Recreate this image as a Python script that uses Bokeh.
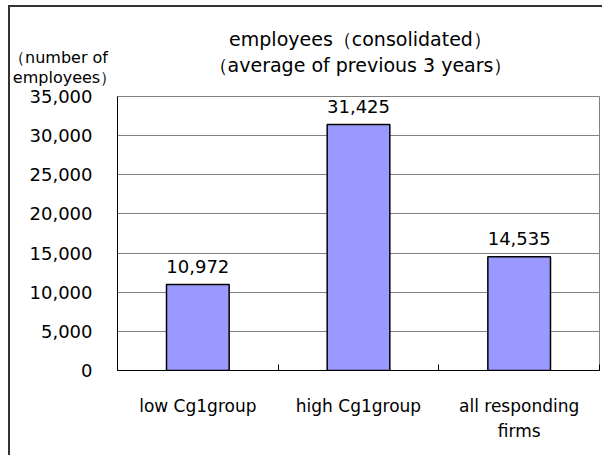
from bokeh.plotting import figure
from bokeh.models import Range1d, FixedTicker, NumeralTickFormatter, Label
from bokeh.core.properties import value
from bokeh.embed import file_html
from bokeh.resources import INLINE

categories = ["low Cg1group", "high Cg1group", "all responding\nfirms"]
employees = [10972, 31425, 14535]
y_ticks = [0, 5000, 10000, 15000, 20000, 25000, 30000, 35000]
title_lines = ["employees（consolidated）", "（average of previous 3 years）"]
y_title_lines = ["（number of", "employees）"]

FONT = "DejaVu Sans"
W, H = 594, 450
LEFT, TOP, BOTTOM, RIGHT = 107, 89, 363, 589   # frame edges in canvas pixels

xs = [i + 0.5 for i in range(len(categories))]

p = figure(width=W, height=H, output_backend="svg", toolbar_location=None,
           title=None,
           x_range=Range1d(0, len(categories)), y_range=Range1d(0, 35000),
           min_border_left=LEFT, min_border_right=W - RIGHT,
           min_border_bottom=H - BOTTOM, min_border_top=TOP)
# outer chart-area frame: only its top and left edges fall inside the picture
p.styles = {"border-left": "2px solid #333333", "border-top": "2px solid #333333",
            "margin-top": "5px", "margin-left": "8px"}

p.outline_line_color = "#808080"
p.outline_line_width = 1
p.background_fill_color = "white"

# bars
p.vbar(x=xs, top=employees, width=0.39, fill_color="#9999FF",
       line_color="black", line_width=1.5)

# value labels
p.text(x=xs, y=employees, text=[f"{v:,}" for v in employees],
       text_align="center", text_baseline="alphabetic", y_offset=-18,
       text_font=value(FONT), text_font_size="18px", text_color="black")

# y axis
ya = p.yaxis[0]
ya.ticker = FixedTicker(ticks=y_ticks)
ya.formatter = NumeralTickFormatter(format="0,0")
ya.major_tick_out = 0
ya.major_tick_in = 0
ya.minor_tick_out = 0
ya.minor_tick_in = 0
ya.axis_line_color = "black"
ya.major_label_standoff = 25
ya.major_label_text_font = FONT
ya.major_label_text_font_size = "18px"
ya.major_label_text_color = "black"

p.ygrid.ticker = FixedTicker(ticks=y_ticks)
p.ygrid.grid_line_color = "#808080"
p.ygrid.grid_line_width = 1
p.xgrid.grid_line_color = None

# x axis
xa = p.xaxis[0]
xa.ticker = FixedTicker(ticks=xs, minor_ticks=list(range(len(categories) + 1)))
xa.major_label_overrides = {x: c for x, c in zip(xs, categories)}
xa.major_tick_in = 0
xa.major_tick_out = 0
xa.minor_tick_in = 6
xa.minor_tick_out = 0
xa.minor_tick_line_color = "black"
xa.axis_line_color = "black"
xa.major_label_standoff = 25
xa.major_label_text_font = FONT
xa.major_label_text_font_size = "17px"
xa.major_label_text_color = "black"
xa.major_label_text_line_height = 1.25

# texts above the frame (placed in the top side panel, stacked outward)
centre = (RIGHT - LEFT) / 2 + 2
texts = [
    (title_lines[1], centre, 32, "19px"),
    (title_lines[0], centre, 36, "19px"),
    (y_title_lines[1], 54 - LEFT, -25, "16px"),
    (y_title_lines[0], 48 - LEFT, -24, "16px"),
]
for t, x, y, fs in texts:
    p.add_layout(Label(x=x, y=y, x_units="screen", y_units="screen",
                       text=t, text_align="center", text_baseline="alphabetic",
                       text_font=FONT, text_font_size=fs, text_color="black"),
                 "above")

open("out.html", "w").write(file_html(p, INLINE))
